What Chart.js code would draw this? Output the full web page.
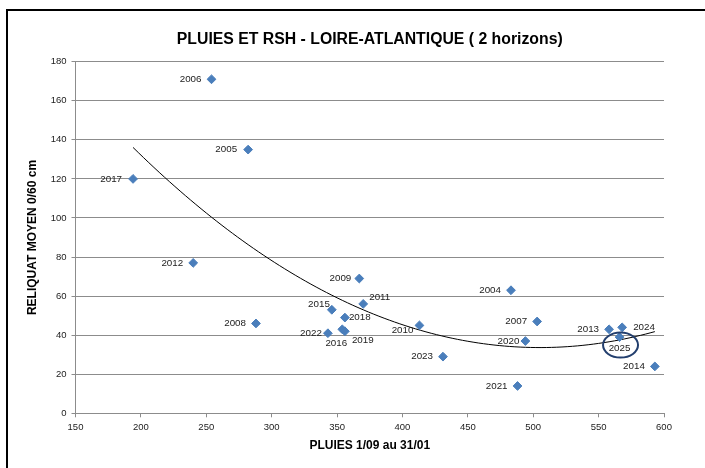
<!DOCTYPE html>
<html>
<head>
<meta charset="utf-8">
<script src="https://cdn.jsdelivr.net/npm/chart.js@4/dist/chart.umd.min.js"></script>
<style>
  body { margin: 0; background: #fff; }
  #wrap { width: 705px; height: 468px; }
</style>
</head>
<body>
<div id="wrap"><canvas id="pluiesChart" width="705" height="468"></canvas></div>
<script>
// données
const years = ['2004', '2005', '2006', '2007', '2008', '2009', '2010', '2011', '2012', '2013', '2014',
               '2015', '2016', '2017', '2018', '2019', '2020', '2021', '2022', '2023', '2024', '2025'];
const pluies = [483, 282, 254, 503, 288, 367, 413, 370, 240, 558, 593,
                346, 354, 194, 356, 356, 494, 488, 343, 431, 568, 566];
const reliquat = [63, 135, 171, 47, 46, 69, 45, 56, 77, 43, 24,
                  53, 43, 120, 49, 42, 37, 14, 41, 29, 44, 39];
const xTicks = [150, 200, 250, 300, 350, 400, 450, 500, 550, 600];
const yTicks = [0, 20, 40, 60, 80, 100, 120, 140, 160, 180];

const FONT = "'Liberation Sans', Arial, sans-serif";

// courbe de tendance polynomiale (ordre 2), moindres carrés
function polyFit2(xs, ys) {
    let n = xs.length, sx = 0, sx2 = 0, sx3 = 0, sx4 = 0, sy = 0, sxy = 0, sx2y = 0;
    for (let i = 0; i < n; i++) {
        const x = xs[i], y = ys[i];
        sx += x; sx2 += x * x; sx3 += x * x * x; sx4 += x * x * x * x;
        sy += y; sxy += x * y; sx2y += x * x * y;
    }
    const m = [[n, sx, sx2, sy], [sx, sx2, sx3, sxy], [sx2, sx3, sx4, sx2y]];
    for (let c = 0; c < 3; c++) {
        for (let r = c + 1; r < 3; r++) {
            const f = m[r][c] / m[c][c];
            for (let k = c; k < 4; k++) m[r][k] -= f * m[c][k];
        }
    }
    const a = [0, 0, 0];
    for (let r = 2; r >= 0; r--) {
        let s = m[r][3];
        for (let k = r + 1; k < 3; k++) s -= m[r][k] * a[k];
        a[r] = s / m[r][r];
    }
    return a;
}
const coef = polyFit2(pluies, reliquat);
const xMin = Math.min(...pluies), xMax = Math.max(...pluies);
const trend = [];
for (let x = xMin; x <= xMax; x += 4) trend.push({x: x, y: coef[0] + coef[1] * x + coef[2] * x * x});
trend.push({x: xMax, y: coef[0] + coef[1] * xMax + coef[2] * xMax * xMax});

const points = pluies.map((p, i) => ({x: p, y: reliquat[i]}));

// placement des étiquettes (px par rapport au point)
const labelPlace = {
    '2009': [-8, 0, 'right'], '2015': [-2, -5, 'right'], '2022': [-6, 0, 'right'],
    '2020': [-6, 0, 'right'], '2010': [-6, 5, 'right'], '2005': [-11, 0, 'right'],
    '2017': [-11, 0, 'right'], '2011': [6, -7, 'left'], '2018': [4, 0, 'left'],
    '2024': [11, 0, 'left'], '2019': [7, 9, 'left'], '2016': [-6, 14, 'center'],
    '2025': [0, 11, 'center']
};

const decor = {
    id: 'decor',
    afterDraw(chart) {
        const c = chart.ctx, area = chart.chartArea;
        c.save();
        // cadre
        c.strokeStyle = '#000';
        c.lineWidth = 2;
        c.beginPath();
        c.moveTo(7, 468); c.lineTo(7, 10); c.lineTo(705, 10);
        c.stroke();
        // titre
        c.fillStyle = '#000';
        c.font = 'bold 15.8px ' + FONT;
        c.textAlign = 'center';
        c.textBaseline = 'alphabetic';
        c.fillText('PLUIES ET RSH - LOIRE-ATLANTIQUE ( 2 horizons)', (area.left + area.right) / 2, 44);
        // étiquettes des années
        const meta = chart.getDatasetMeta(0);
        c.font = '9.8px ' + FONT;
        c.fillStyle = '#222';
        c.textBaseline = 'middle';
        meta.data.forEach((el, i) => {
            const pl = labelPlace[years[i]] || [-10, 0, 'right'];
            c.textAlign = pl[2];
            c.fillText(years[i], el.x + pl[0], el.y + pl[1]);
        });
        // ellipse autour de 2025
        const k = years.indexOf('2025');
        const e = meta.data[k];
        c.strokeStyle = '#233f6e';
        c.lineWidth = 2;
        c.beginPath();
        c.ellipse(e.x + 1, e.y + 8, 17.5, 12.5, 0, 0, Math.PI * 2);
        c.stroke();
        c.restore();
    }
};

var ctx = document.getElementById('pluiesChart').getContext('2d');

const pluiesChart = new Chart(ctx, {
    type: 'scatter',
    data: {
        datasets: [{
            label: 'RSH',
            data: points,
            backgroundColor: '#4a7ebb',
            borderColor: '#4a7ebb',
            pointStyle: 'rectRot',
            pointRadius: 4.4,
            pointHoverRadius: 4.4,
            order: 1
        }, {
            type: 'line',
            label: 'Tendance',
            data: trend,
            borderColor: '#000',
            borderWidth: 1,
            pointRadius: 0,
            fill: false,
            tension: 0,
            order: 2
        }]
    },
    options: {
        responsive: false,
        animation: false,
        events: [],
        layout: {
            padding: {top: 61.7, right: 41, left: 0, bottom: 0}
        },
        plugins: {
            legend: {display: false},
            tooltip: {enabled: false}
        },
        scales: {
            x: {
                type: 'linear',
                min: 150,
                max: 600,
                afterBuildTicks: (s) => { s.ticks = xTicks.map(v => ({value: v})); },
                afterFit: (s) => { s.height = 54.7; },
                grid: {
                    drawOnChartArea: false,
                    drawTicks: true,
                    tickLength: 4,
                    color: '#8c8c8c'
                },
                border: {color: '#8c8c8c', width: 1},
                ticks: {
                    padding: 4,
                    color: '#222',
                    font: {size: 9.5, family: FONT},
                    maxRotation: 0
                },
                title: {
                    display: true,
                    text: 'PLUIES 1/09 au 31/01',
                    color: '#000',
                    font: {size: 12, weight: 'bold', family: FONT},
                    padding: {top: 0, bottom: 14.8}
                }
            },
            y: {
                min: 0,
                max: 180,
                afterBuildTicks: (s) => { s.ticks = yTicks.map(v => ({value: v})); },
                afterFit: (s) => { s.width = 75.5; },
                grid: {
                    color: '#8c8c8c',
                    tickLength: 4,
                    lineWidth: 1
                },
                border: {color: '#8c8c8c', width: 1},
                ticks: {
                    padding: 5,
                    color: '#222',
                    font: {size: 9.5, family: FONT}
                },
                title: {
                    display: true,
                    text: 'RELIQUAT MOYEN 0/60 cm',
                    color: '#000',
                    font: {size: 12, weight: 'bold', family: FONT},
                    padding: {top: 25.8, bottom: 0}
                }
            }
        }
    },
    plugins: [decor]
});
</script>
</body>
</html>
